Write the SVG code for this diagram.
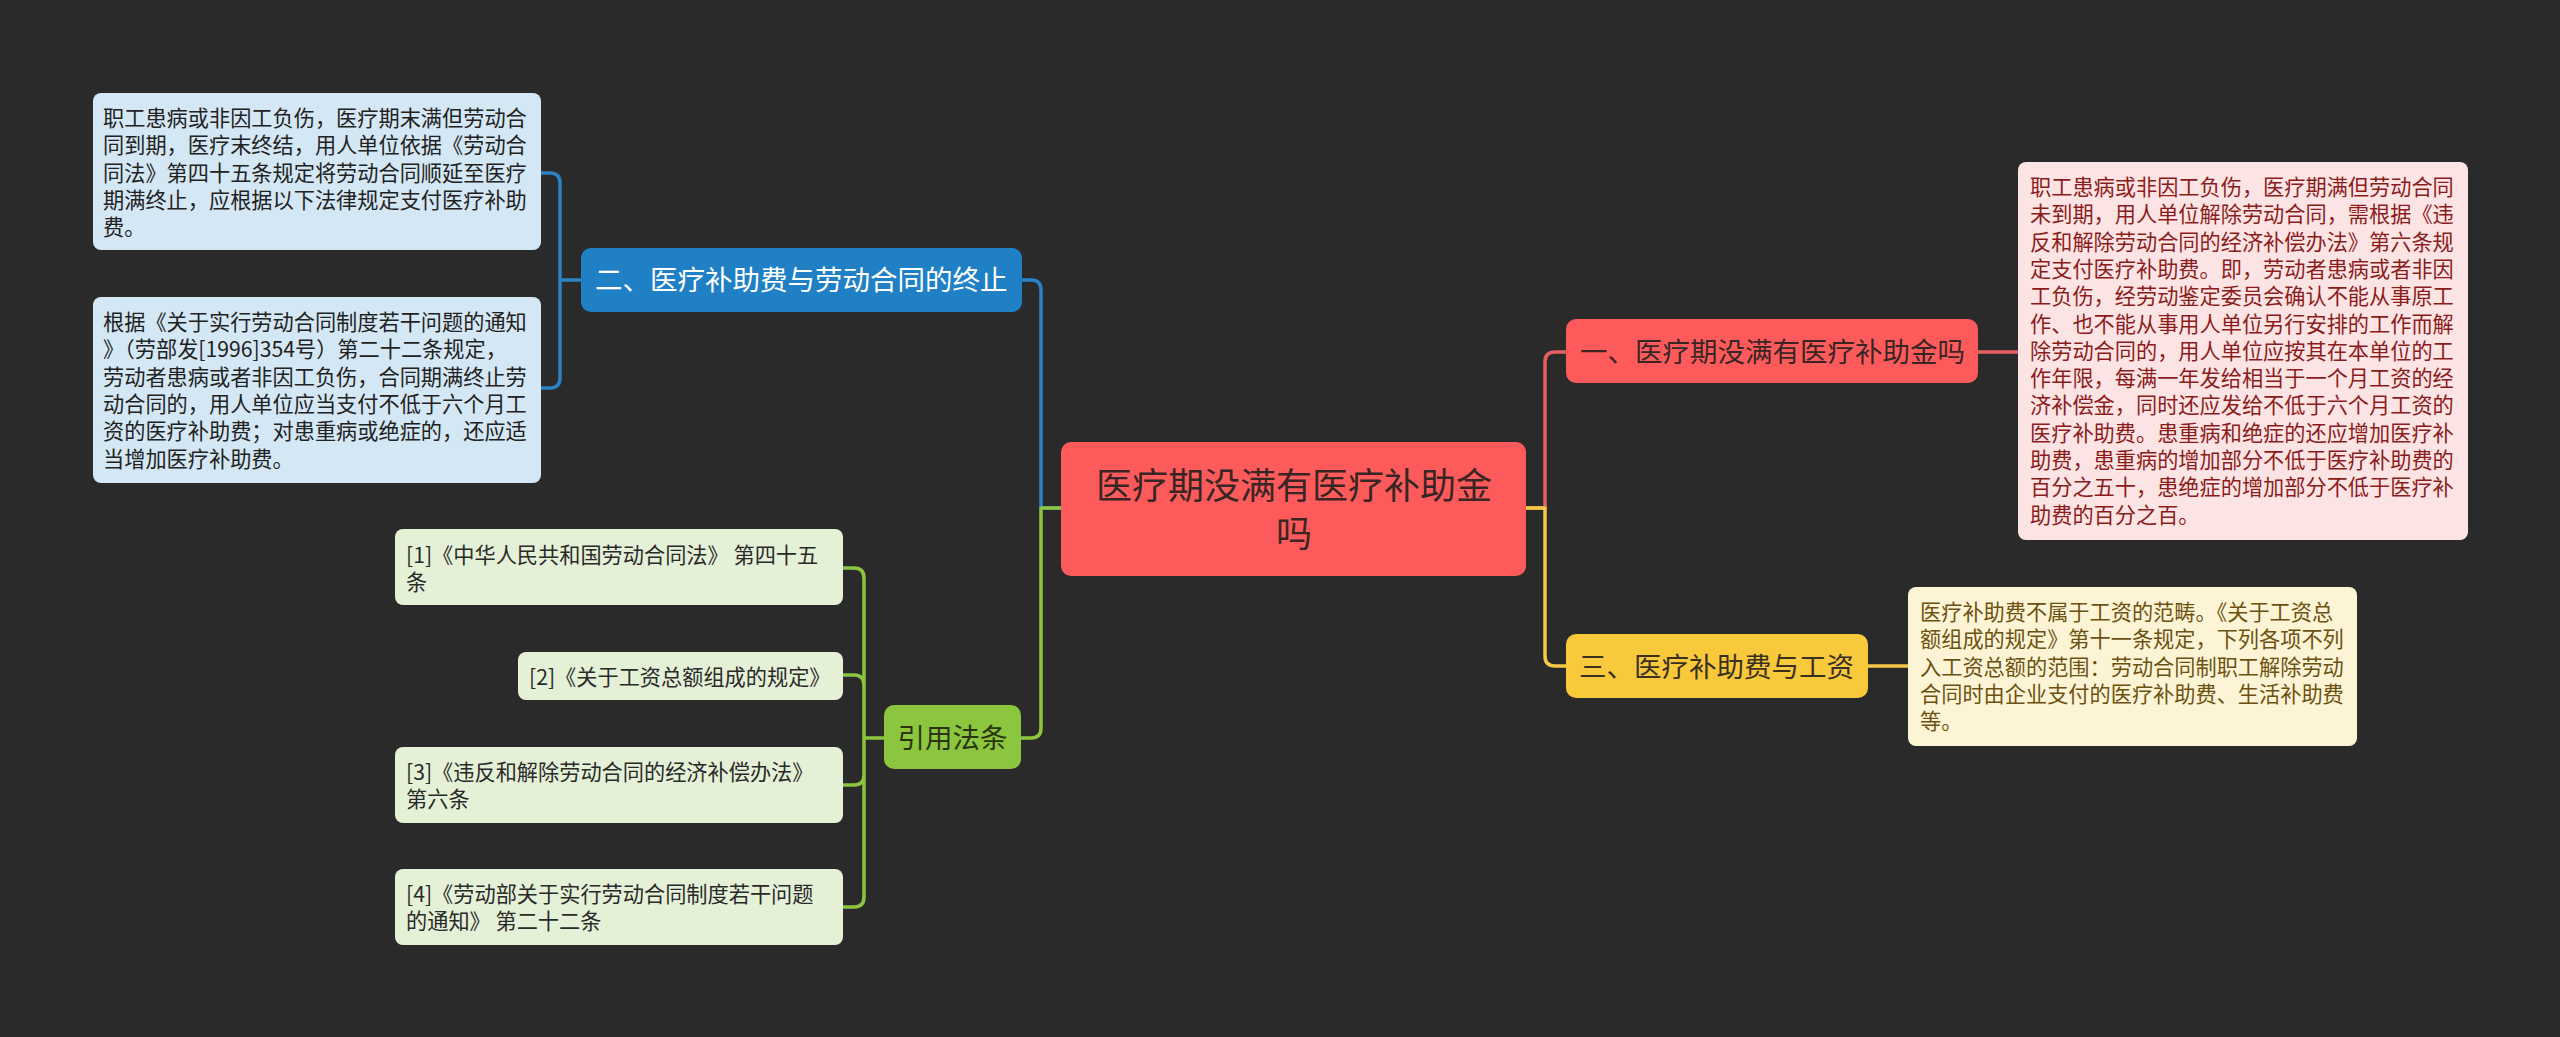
<svg xmlns="http://www.w3.org/2000/svg" width="2560" height="1037" viewBox="0 0 2560 1037">
<style>
text{font-family:"Noto Sans CJK SC","Noto Sans",sans-serif}
.leaf{font-size:21.2px}
.main{font-size:27.5px}
.c{fill:none;stroke-width:3.5;stroke-linecap:round;stroke-linejoin:round}
</style>
<rect width="2560" height="1037" fill="#2a2a2a"/>
<g id="connectors">
<path class="c" stroke="#2b83c6" d="M1061,508 H1041 V290 Q1041,280 1031,280 H1022"/>
<path class="c" stroke="#2b83c6" d="M540,173 H550 Q560,173 560,183 V378 Q560,388 550,388 H540 M581,280 H560"/>
<path class="c" stroke="#8cc63f" d="M1061,508 H1041 V728 Q1041,738 1031,738 H1020"/>
<path class="c" stroke="#8cc63f" d="M843,568 H854 Q864,568 864,578 V897 Q864,907 854,907 H843 M843,675 H854 Q864,675 864,685 M843,785 H854 Q864,785 864,775 M884,738 H864"/>
<path class="c" stroke="#e85f5f" d="M1526,508 H1545 V362 Q1545,352 1555,352 H1566 M1978,352 H2018"/>
<path class="c" stroke="#f6c944" d="M1526,508 H1545 V656 Q1545,666 1555,666 H1566 M1868,666 H1908"/>
</g>
<g id="center">
<rect x="1061" y="442" width="465" height="134" rx="10" fill="#fd5b5b"/>
<text x="1294" y="499" font-size="36" fill="#3a2525" text-anchor="middle">医疗期没满有医疗补助金</text>
<text x="1294" y="547" font-size="36" fill="#3a2525" text-anchor="middle">吗</text>
</g>
<g id="n1">
<rect x="1566" y="319" width="412" height="64" rx="10" fill="#fd5b5b"/>
<text class="main" x="1580" y="362" fill="#3a2525">一、医疗期没满有医疗补助金吗</text>
</g>
<g id="n1leaf">
<rect x="2018" y="162" width="450" height="378" rx="8" fill="#fde4e4"/>
<text class="leaf" fill="#8b1c1c">
<tspan x="2030" y="195">职工患病或非因工负伤，医疗期满但劳动合同</tspan>
<tspan x="2030" y="222.3">未到期，用人单位解除劳动合同，需根据《违</tspan>
<tspan x="2030" y="249.6">反和解除劳动合同的经济补偿办法》第六条规</tspan>
<tspan x="2030" y="276.9">定支付医疗补助费。即，劳动者患病或者非因</tspan>
<tspan x="2030" y="304.2">工负伤，经劳动鉴定委员会确认不能从事原工</tspan>
<tspan x="2030" y="331.5">作、也不能从事用人单位另行安排的工作而解</tspan>
<tspan x="2030" y="358.8">除劳动合同的，用人单位应按其在本单位的工</tspan>
<tspan x="2030" y="386.1">作年限，每满一年发给相当于一个月工资的经</tspan>
<tspan x="2030" y="413.4">济补偿金，同时还应发给不低于六个月工资的</tspan>
<tspan x="2030" y="440.7">医疗补助费。患重病和绝症的还应增加医疗补</tspan>
<tspan x="2030" y="468">助费，患重病的增加部分不低于医疗补助费的</tspan>
<tspan x="2030" y="495.3">百分之五十，患绝症的增加部分不低于医疗补</tspan>
<tspan x="2030" y="522.6">助费的百分之百。</tspan>
</text>
</g>
<g id="n3">
<rect x="1566" y="634" width="302" height="64" rx="10" fill="#f9c93c"/>
<text class="main" x="1579" y="677" fill="#3a3020">三、医疗补助费与工资</text>
</g>
<g id="n3leaf">
<rect x="1908" y="587" width="449" height="159" rx="8" fill="#fdf4d6"/>
<text class="leaf" fill="#6b5210">
<tspan x="1920" y="620">医疗补助费不属于工资的范畴。《关于工资总</tspan>
<tspan x="1920" y="647.3">额组成的规定》第十一条规定，下列各项不列</tspan>
<tspan x="1920" y="674.6">入工资总额的范围：劳动合同制职工解除劳动</tspan>
<tspan x="1920" y="701.9">合同时由企业支付的医疗补助费、生活补助费</tspan>
<tspan x="1920" y="729.2">等。</tspan>
</text>
</g>
<g id="n2">
<rect x="581" y="248" width="441" height="64" rx="10" fill="#1f80c6"/>
<text class="main" x="595" y="290" fill="#ffffff">二、医疗补助费与劳动合同的终止</text>
</g>
<g id="n2leaf1">
<rect x="93" y="93" width="448" height="157" rx="8" fill="#d4e7f4"/>
<text class="leaf" fill="#222222">
<tspan x="103" y="126">职工患病或非因工负伤，医疗期末满但劳动合</tspan>
<tspan x="103" y="153.3">同到期，医疗末终结，用人单位依据《劳动合</tspan>
<tspan x="103" y="180.6">同法》第四十五条规定将劳动合同顺延至医疗</tspan>
<tspan x="103" y="207.9">期满终止，应根据以下法律规定支付医疗补助</tspan>
<tspan x="103" y="235.2">费。</tspan>
</text>
</g>
<g id="n2leaf2">
<rect x="93" y="297" width="448" height="186" rx="8" fill="#d4e7f4"/>
<text class="leaf" fill="#222222">
<tspan x="103" y="330">根据《关于实行劳动合同制度若干问题的通知</tspan>
<tspan x="103" y="357.3">》（劳部发[1996]354号）第二十二条规定，</tspan>
<tspan x="103" y="384.6">劳动者患病或者非因工负伤，合同期满终止劳</tspan>
<tspan x="103" y="411.9">动合同的，用人单位应当支付不低于六个月工</tspan>
<tspan x="103" y="439.2">资的医疗补助费；对患重病或绝症的，还应适</tspan>
<tspan x="103" y="466.5">当增加医疗补助费。</tspan>
</text>
</g>
<g id="n4">
<rect x="884" y="705" width="137" height="64" rx="10" fill="#8cc63f"/>
<text class="main" x="952.5" y="748" fill="#2a3510" text-anchor="middle">引用法条</text>
</g>
<g id="ref1">
<rect x="395" y="529" width="448" height="76" rx="8" fill="#e5f1d6"/>
<text class="leaf" fill="#2a2a2a"><tspan x="406" y="563">[1]《中华人民共和国劳动合同法》 第四十五</tspan><tspan x="406" y="590.3">条</tspan></text>
</g>
<g id="ref2">
<rect x="518" y="652" width="325" height="48" rx="8" fill="#e5f1d6"/>
<text class="leaf" fill="#2a2a2a" x="529" y="685">[2]《关于工资总额组成的规定》</text>
</g>
<g id="ref3">
<rect x="395" y="747" width="448" height="76" rx="8" fill="#e5f1d6"/>
<text class="leaf" fill="#2a2a2a"><tspan x="406" y="780">[3]《违反和解除劳动合同的经济补偿办法》</tspan><tspan x="406" y="807.3">第六条</tspan></text>
</g>
<g id="ref4">
<rect x="395" y="869" width="448" height="76" rx="8" fill="#e5f1d6"/>
<text class="leaf" fill="#2a2a2a"><tspan x="406" y="902">[4]《劳动部关于实行劳动合同制度若干问题</tspan><tspan x="406" y="929.3">的通知》 第二十二条</tspan></text>
</g>
</svg>
